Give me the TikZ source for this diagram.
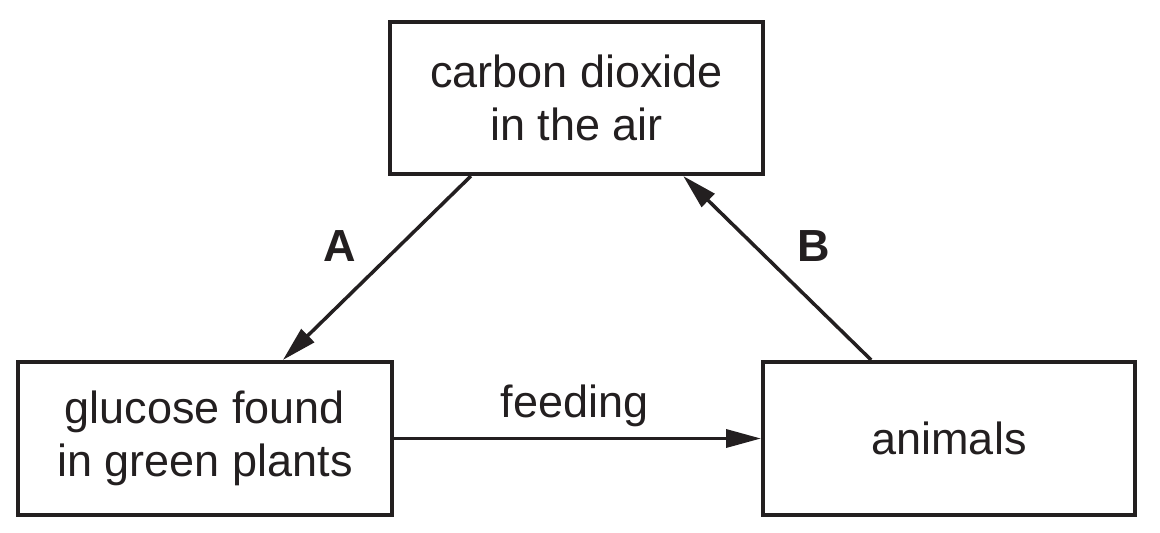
\documentclass[tikz,border=0pt]{standalone}
\usepackage{fontspec}
\setmainfont{Liberation Sans}
\usetikzlibrary{arrows.meta,calc}
\definecolor{ink}{HTML}{231F20}
\begin{document}
\begin{tikzpicture}[x=1pt,y=-1pt,
  box/.style={draw=ink,line width=4pt,minimum width=#1,minimum height=153pt,inner sep=0pt,align=center,text=ink,
    font=\fontsize{45}{53}\selectfont},
  conn/.style={draw=ink,line width=3.5pt,-{Triangle[length=35pt,width=18pt]}},
  lbl/.style={text=ink,font=\fontsize{45}{53}\selectfont\bfseries,inner sep=0pt},
  txt/.style={text=ink,font=\fontsize{45}{53}\selectfont,inner sep=0pt}]
\useasboundingbox (0,0) rectangle (1160,533);
\node[box=373pt,minimum height=152pt] (top) at (576.5,98) {carbon dioxide\\in the air};
\node[box=374pt] (glu) at (205,438.5) {glucose found\\in green plants};
\node[box=372pt] (ani) at (949,438.5) {animals};
\draw[conn] ($(top.south west)!0.22!(top.south east)$) -- ($(glu.north west)!0.706!(glu.north east)$);
\draw[conn] ($(ani.north west)!0.293!(ani.north east)$) -- ($(top.south west)!0.783!(top.south east)$);
\draw[conn] (glu.east) -- (ani.west);
\node[lbl] (la) at (340,246) {A};
\node[lbl] (lb) at (814,246) {B};
\node[txt,anchor=base] (feed) at (574.5,417) {feeding};
\end{tikzpicture}
\end{document}
